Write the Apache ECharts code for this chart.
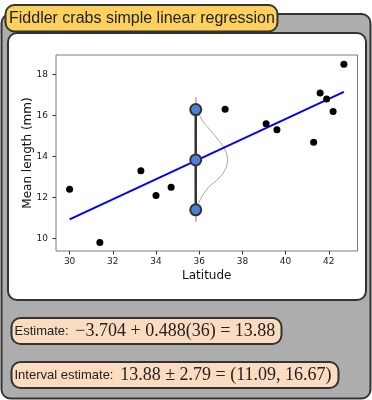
<!DOCTYPE html>
<html>
<head>
<meta charset="utf-8">
<script src="https://cdn.jsdelivr.net/npm/echarts@6/dist/echarts.min.js"></script>
<style>
html,body{margin:0;padding:0;background:#ffffff;}
#chart{width:372px;height:400px;}
</style>
</head>
<body>
<div id="chart"></div>
<script>
// ---- data ----
const latitude = [30.0, 31.4, 33.3, 34.0, 34.7, 37.2, 39.1, 39.6, 41.3, 41.6, 41.9, 42.2, 42.7];
const meanLength = [12.4, 9.8, 13.3, 12.1, 12.5, 16.3, 15.6, 15.3, 14.7, 17.1, 16.8, 16.2, 18.5];
const fitX = [30.0, 42.7];
const fitY = [10.93, 17.15];
const intervalX = 35.84;
const intervalY = [11.40, 13.83, 16.29];
const guideY = [10.81, 16.90];
const curveY = [16.90, 16.41, 15.78, 15.30, 14.71, 14.22, 13.83, 13.44, 12.95, 12.47, 11.88, 11.40, 10.81];
const curveX = [35.85, 35.89, 36.13, 36.50, 36.96, 37.24, 37.31, 37.24, 36.92, 36.41, 36.04, 35.89, 35.85];
const xTicks = [30, 32, 34, 36, 38, 40, 42];
const yTicks = [10, 12, 14, 16, 18];
const titleText = 'Fiddler crabs simple linear regression';
const estLabel = 'Estimate:';
const estMath = '\u22123.704 + 0.488(36) = 13.88';
const intLabel = 'Interval estimate:';
const intMath = '13.88 \u00b1 2.79 = (11.09, 16.67)';

const chart = echarts.init(document.getElementById('chart'), null, {renderer: 'canvas'});

const pairs = (xs, ys) => xs.map((x, i) => [x, ys[i]]);

const option = {
  animation: false,
  backgroundColor: '#ffffff',
  graphic: [
    // outer gray panel
    {type: 'rect', z: -20, shape: {x: 1.5, y: 14, width: 369, height: 384.5, r: 9},
     style: {fill: '#adadad', stroke: '#333333', lineWidth: 2}},
    // white inner panel
    {type: 'rect', z: -19, shape: {x: 8, y: 33, width: 358, height: 267, r: 9},
     style: {fill: '#ffffff', stroke: '#333333', lineWidth: 2}},
    // title box
    {type: 'rect', z: 10, shape: {x: 5.5, y: 5, width: 272, height: 26.5, r: 9},
     style: {fill: '#fdd15c', stroke: '#333333', lineWidth: 2}},
    {type: 'text', z: 11, x: 9, y: 18.5,
     style: {text: titleText, font: '16px "Liberation Sans", Arial, sans-serif', fill: '#222222', verticalAlign: 'middle', align: 'left'}},
    // estimate box
    {type: 'rect', z: 10, shape: {x: 11.5, y: 318, width: 270, height: 26, r: 9},
     style: {fill: '#fcdcc0', stroke: '#333333', lineWidth: 2}},
    {type: 'text', z: 11, x: 14.5, y: 331.5,
     style: {text: '{a|' + estLabel + '}  {b|' + estMath + '}', verticalAlign: 'middle', align: 'left',
       rich: {a: {font: '13px "Liberation Sans", Arial, sans-serif', fill: '#222222'},
              b: {font: '18px "Liberation Serif", "Times New Roman", serif', fill: '#222222'}}}},
    // interval box
    {type: 'rect', z: 10, shape: {x: 11.5, y: 362, width: 327, height: 26, r: 9},
     style: {fill: '#fcdcc0', stroke: '#333333', lineWidth: 2}},
    {type: 'text', z: 11, x: 14.5, y: 375.5,
     style: {text: '{a|' + intLabel + '}  {b|' + intMath + '}', verticalAlign: 'middle', align: 'left',
       rich: {a: {font: '13px "Liberation Sans", Arial, sans-serif', fill: '#222222'},
              b: {font: '18px "Liberation Serif", "Times New Roman", serif', fill: '#222222'}}}}
  ],
  grid: {left: 56, right: 14.5, top: 55, bottom: 149, show: true, backgroundColor: '#ffffff', borderColor: '#7a7a7a', borderWidth: 1, containLabel: false},
  xAxis: {
    type: 'value', min: 29.37, max: 43.33,
    name: 'Latitude', nameLocation: 'middle', nameGap: 19, nameMoveOverlap: false,
    nameTextStyle: {fontFamily: 'DejaVu Sans', fontSize: 12, color: '#111111'},
    axisLine: {show: false},
    axisTick: {show: true, length: 3.5, inside: false, customValues: xTicks, lineStyle: {color: '#333333', width: 1}},
    axisLabel: {customValues: xTicks, margin: 6, fontFamily: 'DejaVu Sans', fontSize: 9, color: '#222222'},
    splitLine: {show: false}
  },
  yAxis: {
    type: 'value', min: 9.39, max: 18.95,
    name: 'Mean length (mm)', nameLocation: 'middle', nameGap: 22, nameRotate: 90, nameMoveOverlap: false,
    nameTextStyle: {fontFamily: 'DejaVu Sans', fontSize: 12, color: '#111111'},
    axisLine: {show: false},
    axisTick: {show: true, length: 3.5, inside: false, customValues: yTicks, lineStyle: {color: '#333333', width: 1}},
    axisLabel: {customValues: yTicks, margin: 8, fontFamily: 'DejaVu Sans', fontSize: 9, color: '#222222'},
    splitLine: {show: false}
  },
  series: [
    {type: 'line', z: 2, data: pairs([intervalX, intervalX], guideY), symbol: 'none',
     lineStyle: {color: '#b0b0b0', width: 1}, silent: true},
    {type: 'line', z: 2, data: pairs(curveX, curveY), symbol: 'none', smooth: 0.4,
     lineStyle: {color: '#a8a8a8', width: 1}, silent: true},
    {type: 'line', z: 3, data: pairs(fitX, fitY), symbol: 'none',
     lineStyle: {color: '#0000ff', width: 2}, silent: true},
    {type: 'scatter', z: 4, data: pairs(latitude, meanLength), symbol: 'circle', symbolSize: 7,
     itemStyle: {color: '#000000', opacity: 1}, silent: true},
    {type: 'line', z: 5, data: pairs([intervalX, intervalX], [intervalY[0], intervalY[2]]), symbol: 'none',
     lineStyle: {color: '#333333', width: 2.5}, silent: true},
    {type: 'scatter', z: 6, data: pairs(intervalY.map(() => intervalX), intervalY), symbol: 'circle', symbolSize: 11,
     itemStyle: {color: '#4f7fdc', borderColor: '#333333', borderWidth: 2, opacity: 1}, silent: true}
  ]
};
chart.setOption(option);
</script>
</body>
</html>
